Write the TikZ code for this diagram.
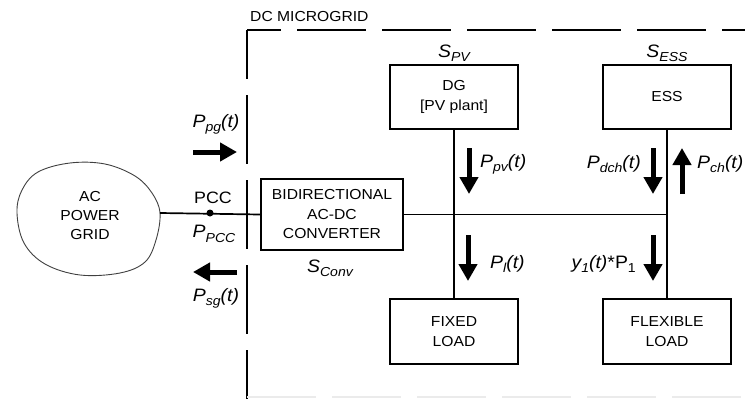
\documentclass[tikz,border=0pt]{standalone}
\usepackage{fontspec}
\setmainfont{Liberation Sans}[FakeStretch=1.08]
\usetikzlibrary{arrows.meta}
\newcommand\subtxt[1]{\raisebox{-0.45ex}{\fontsize{13}{13}\selectfont #1}}
\newcommand\lab[3]{{\fontsize{18}{18}\selectfont\itshape #1\subtxt{#2}#3}}
\begin{document}
\begin{tikzpicture}[x=1pt,y=-1pt,
  box/.style={draw,line width=1.9pt,align=center,inner sep=0pt,
    font=\fontsize{14.5}{19.5}\selectfont},
  plain/.style={align=center,inner sep=0pt,font=\fontsize{14.5}{19}\selectfont},
  wire/.style={line width=1.7pt},
  bound/.style={line width=2.3pt,dash pattern=on 69pt off 16pt},
  bigarrow/.style={line width=5pt,-{Triangle[width=18pt,length=17pt]}},
  lbl/.style={inner sep=0pt}]
\useasboundingbox (0,0) rectangle (745,399);
\fill[white] (0,0) rectangle (745,399);
% boundary
\draw[bound,dash phase=35pt] (247,30) -- (745,30);
\draw[bound,dash phase=20pt] (247,30) -- (247,399);
\draw[line width=1.5pt,dash pattern=on 69pt off 16pt,black!8] (247,397) -- (745,397);
\node[plain,anchor=west] (title) at (250,17) {DC MICROGRID};
% cloud
\draw[line width=0.9pt,black!75] plot[smooth cycle,tension=0.6] coordinates {
  (17,213) (22,190) (38,172) (70,163) (105,164) (135,176) (152,193) (160,213)
  (156,240) (145,262) (120,273) (80,275) (45,264) (24,243)};
\coordinate (cloudR) at (160,213);
\node[plain] (grid) at (90,216) {AC\\POWER\\GRID};
% boxes
\node[box,minimum width=142pt,minimum height=71pt] (conv) at (332,214.5)
  {BIDIRECTIONAL\\AC-DC\\CONVERTER};
\node[box,minimum width=128pt,minimum height=64pt] (dg) at (454,97) {DG\\{}[PV plant]};
\node[box,minimum width=128pt,minimum height=64pt] (ess) at (667,97) {ESS};
\node[box,minimum width=128pt,minimum height=65pt] (fixed) at (454,331.5) {FIXED\\LOAD};
\node[box,minimum width=128pt,minimum height=65pt] (flex) at (667,331.5) {FLEXIBLE\\LOAD};
% wires
\draw[wire] (cloudR) -- (conv.west);
\draw[wire] (conv.east) -- (conv.east -| ess.south);
\draw[wire] (dg.south) -- (fixed.north);
\draw[wire] (ess.south) -- (flex.north);
\node[circle,fill,inner sep=0pt,minimum size=7pt] (pcc) at (210,213) {};
\node[plain,font=\fontsize{16.5}{16.5}\selectfont] (pcclab) at (213,198) {PCC};
\node[lbl] (ppcc) at (214,234) {\lab{P}{PCC}{}};
% labels above boxes
\node[lbl] (spv) at (454,53) {\lab{S}{PV}{}};
\node[lbl] (sess) at (667,53) {\lab{S}{ESS}{}};
\node[lbl] (sconv) at (330,268) {\lab{S}{Conv}{}};
% grid arrows
\coordinate (pgA) at (193,152); \coordinate (pgB) at (237,152);
\draw[bigarrow] (pgA) -- (pgB);
\node[lbl] (pgl) at (216,124) {\lab{P}{pg}{(t)}};
\coordinate (sgA) at (237,272); \coordinate (sgB) at (193,272);
\draw[bigarrow] (sgA) -- (sgB);
\node[lbl] (sgl) at (216,298) {\lab{P}{sg}{(t)}};
% vertical arrows
\coordinate (pvA) at (469,148); \coordinate (pvB) at (469,194);
\draw[bigarrow] (pvA) -- (pvB);
\node[lbl,anchor=west] (pvl) at (480,164) {\lab{P}{pv}{(t)}};
\coordinate (dchA) at (653,148); \coordinate (dchB) at (653,194);
\draw[bigarrow] (dchA) -- (dchB);
\node[lbl,anchor=east] (dchl) at (641,164) {\lab{P}{dch}{(t)}};
\coordinate (chA) at (682,194); \coordinate (chB) at (682,148);
\draw[bigarrow] (chA) -- (chB);
\node[lbl,anchor=west] (chl) at (697,164) {\lab{P}{ch}{(t)}};
\coordinate (plA) at (468,235); \coordinate (plB) at (468,281);
\draw[bigarrow] (plA) -- (plB);
\node[lbl,anchor=west] (pll) at (490,264) {\lab{P}{l}{(t)}};
\coordinate (flA) at (653,235); \coordinate (flB) at (653,281);
\draw[bigarrow] (flA) -- (flB);
\node[lbl,anchor=east] (fll) at (636,264)
  {{\fontsize{18}{18}\selectfont\itshape y\subtxt{1}(t)\upshape*P\subtxt{1}}};
\end{tikzpicture}
\end{document}
